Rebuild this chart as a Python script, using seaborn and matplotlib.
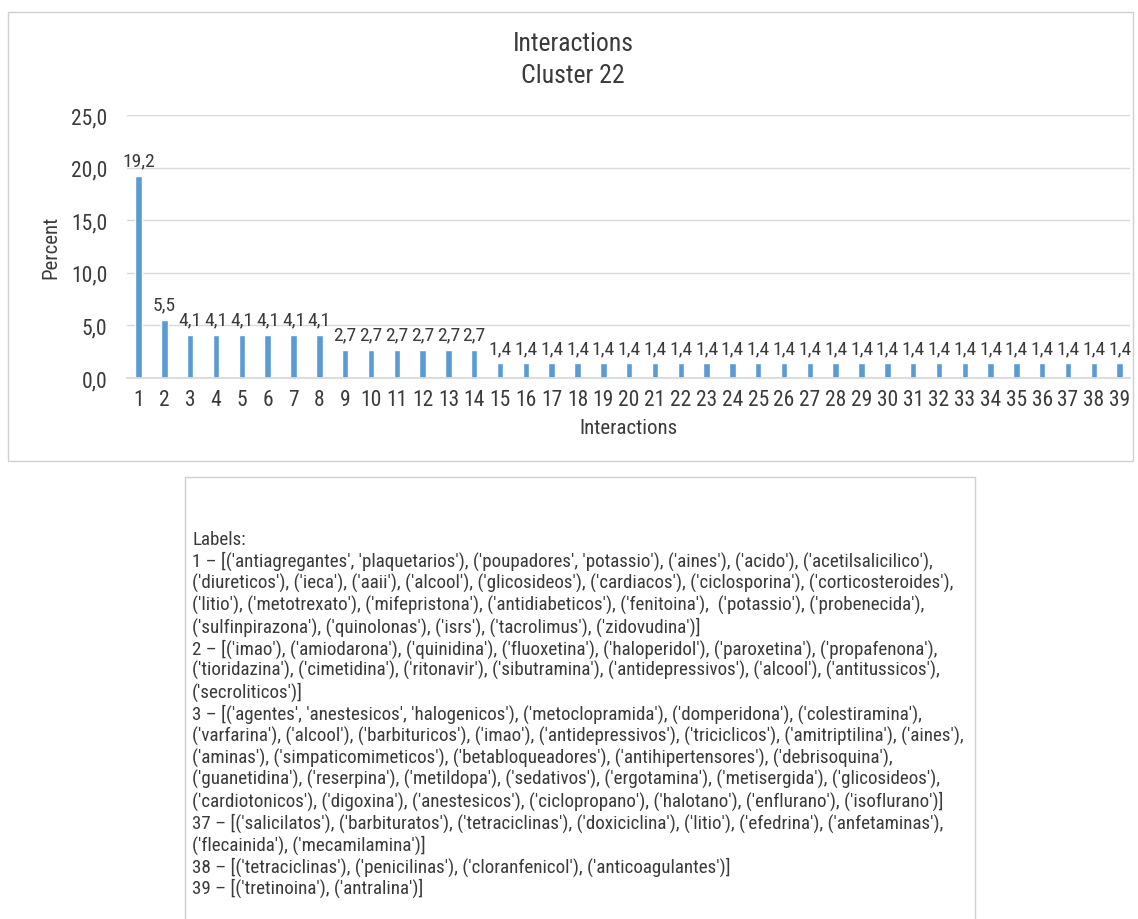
import matplotlib
matplotlib.use("Agg")
import matplotlib.pyplot as plt
from matplotlib import font_manager
from matplotlib.patches import Rectangle
import seaborn as sns
import pandas as pd

# Share of interactions per group (percent)
categories = [str(i) for i in range(1, 40)]
percent = [19.2, 5.5] + [4.1] * 6 + [2.7] * 6 + [1.4] * 25

title_lines = ["Interactions", "Cluster 22"]
x_title = "Interactions"
y_title = "Percent"
y_ticks = [0, 5, 10, 15, 20, 25]

label_lines = [
    "Labels:",
    "1 – [('antiagregantes', 'plaquetarios'), ('poupadores', 'potassio'), ('aines'), ('acido'), ('acetilsalicilico'),",
    "('diureticos'), ('ieca'), ('aaii'), ('alcool'), ('glicosideos'), ('cardiacos'), ('ciclosporina'), ('corticosteroides'),",
    "('litio'), ('metotrexato'), ('mifepristona'), ('antidiabeticos'), ('fenitoina'),  ('potassio'), ('probenecida'),",
    "('sulfinpirazona'), ('quinolonas'), ('isrs'), ('tacrolimus'), ('zidovudina')]",
    "2 – [('imao'), ('amiodarona'), ('quinidina'), ('fluoxetina'), ('haloperidol'), ('paroxetina'), ('propafenona'),",
    "('tioridazina'), ('cimetidina'), ('ritonavir'), ('sibutramina'), ('antidepressivos'), ('alcool'), ('antitussicos'),",
    "('secroliticos')]",
    "3 – [('agentes', 'anestesicos', 'halogenicos'), ('metoclopramida'), ('domperidona'), ('colestiramina'),",
    "('varfarina'), ('alcool'), ('barbituricos'), ('imao'), ('antidepressivos'), ('triciclicos'), ('amitriptilina'), ('aines'),",
    "('aminas'), ('simpaticomimeticos'), ('betabloqueadores'), ('antihipertensores'), ('debrisoquina'),",
    "('guanetidina'), ('reserpina'), ('metildopa'), ('sedativos'), ('ergotamina'), ('metisergida'), ('glicosideos'),",
    "('cardiotonicos'), ('digoxina'), ('anestesicos'), ('ciclopropano'), ('halotano'), ('enflurano'), ('isoflurano')]",
    "37 – [('salicilatos'), ('barbituratos'), ('tetraciclinas'), ('doxiciclina'), ('litio'), ('efedrina'), ('anfetaminas'),",
    "('flecainida'), ('mecamilamina')]",
    "38 – [('tetraciclinas'), ('penicilinas'), ('cloranfenicol'), ('anticoagulantes')]",
    "39 – [('tretinoina'), ('antralina')]",
]


def pick_font(names):
    for name in names:
        try:
            font_manager.findfont(font_manager.FontProperties(family=name),
                                  fallback_to_default=False)
            return name
        except ValueError:
            continue
    return "DejaVu Sans"


sns.set_theme(style="white")
narrow = pick_font(["Liberation Sans Narrow", "DejaVu Sans Condensed",
                    "Roboto Condensed", "Open Sans Condensed"])
FONT = [narrow, "DejaVu Sans"]
plt.rcParams["font.family"] = FONT
CONDENSED = narrow != "DejaVu Sans"
TXT = "#3a3a3a"

W, H = 1138, 920
fig = plt.figure(figsize=(W / 100, H / 100), dpi=100)
fig.patch.set_facecolor("white")


def fx(px):
    return px / W


def fy(py):
    return 1 - py / H


# Outer frames: chart area and label box
fig.patches.append(Rectangle((fx(8), fy(462)), fx(1125), (462 - 13) / H,
                             transform=fig.transFigure, fill=False,
                             edgecolor="#d0d0d0", linewidth=1.0))
fig.patches.append(Rectangle((fx(185), fy(925)), fx(790), (925 - 478) / H,
                             transform=fig.transFigure, fill=False,
                             edgecolor="#d0d0d0", linewidth=1.0))

ax = fig.add_axes([fx(127), fy(379), fx(1130 - 127), (379 - 116) / H])
df = pd.DataFrame({"group": categories, "pct": percent})
sns.barplot(data=df, x="group", y="pct", color="#5B9BD5", saturation=1,
            width=0.25, ax=ax, order=categories)

ax.set_xlim(-0.45, len(categories) - 0.6)
ax.set_ylim(0, 25)
ax.set_yticks(y_ticks)
ax.set_yticklabels([f"{v:.1f}".replace(".", ",") for v in y_ticks])
ax.yaxis.grid(True, color="#d9d9d9", linewidth=1.0)
ax.set_axisbelow(True)
for s in ["top", "right", "left"]:
    ax.spines[s].set_visible(False)
ax.spines["bottom"].set_color("#d9d9d9")

tick_fs = 15.5 if CONDENSED else 12.5
ax.tick_params(axis="both", length=0, labelsize=tick_fs, colors=TXT)
ax.tick_params(axis="x", pad=8)
ax.tick_params(axis="y", pad=14)
ax.set_xlabel(x_title, fontsize=15 if CONDENSED else 14, color=TXT, labelpad=6)
ax.set_ylabel(y_title, fontsize=15 if CONDENSED else 12.5, color=TXT,
              labelpad=8)

lab_fs = 14 if CONDENSED else 11.5
for i, v in enumerate(percent):
    ax.text(i, v + 0.6, f"{v:.1f}".replace(".", ","), ha="center",
            va="bottom", fontsize=lab_fs, color=TXT)

title_fs = 18.5 if CONDENSED else 15.5
fig.text(fx(573), fy(44), title_lines[0], ha="center", va="center",
         fontsize=title_fs, color=TXT)
fig.text(fx(573), fy(76), title_lines[1], ha="center", va="center",
         fontsize=title_fs, color=TXT)

body_fs = 13.7 if CONDENSED else 10.5
y0, step = 540, 21.8
for k, line in enumerate(label_lines):
    fig.text(fx(192), fy(y0 + k * step), line, ha="left", va="center",
             fontsize=body_fs, color=TXT)

fig.savefig("out.png", dpi=100, facecolor="white")
